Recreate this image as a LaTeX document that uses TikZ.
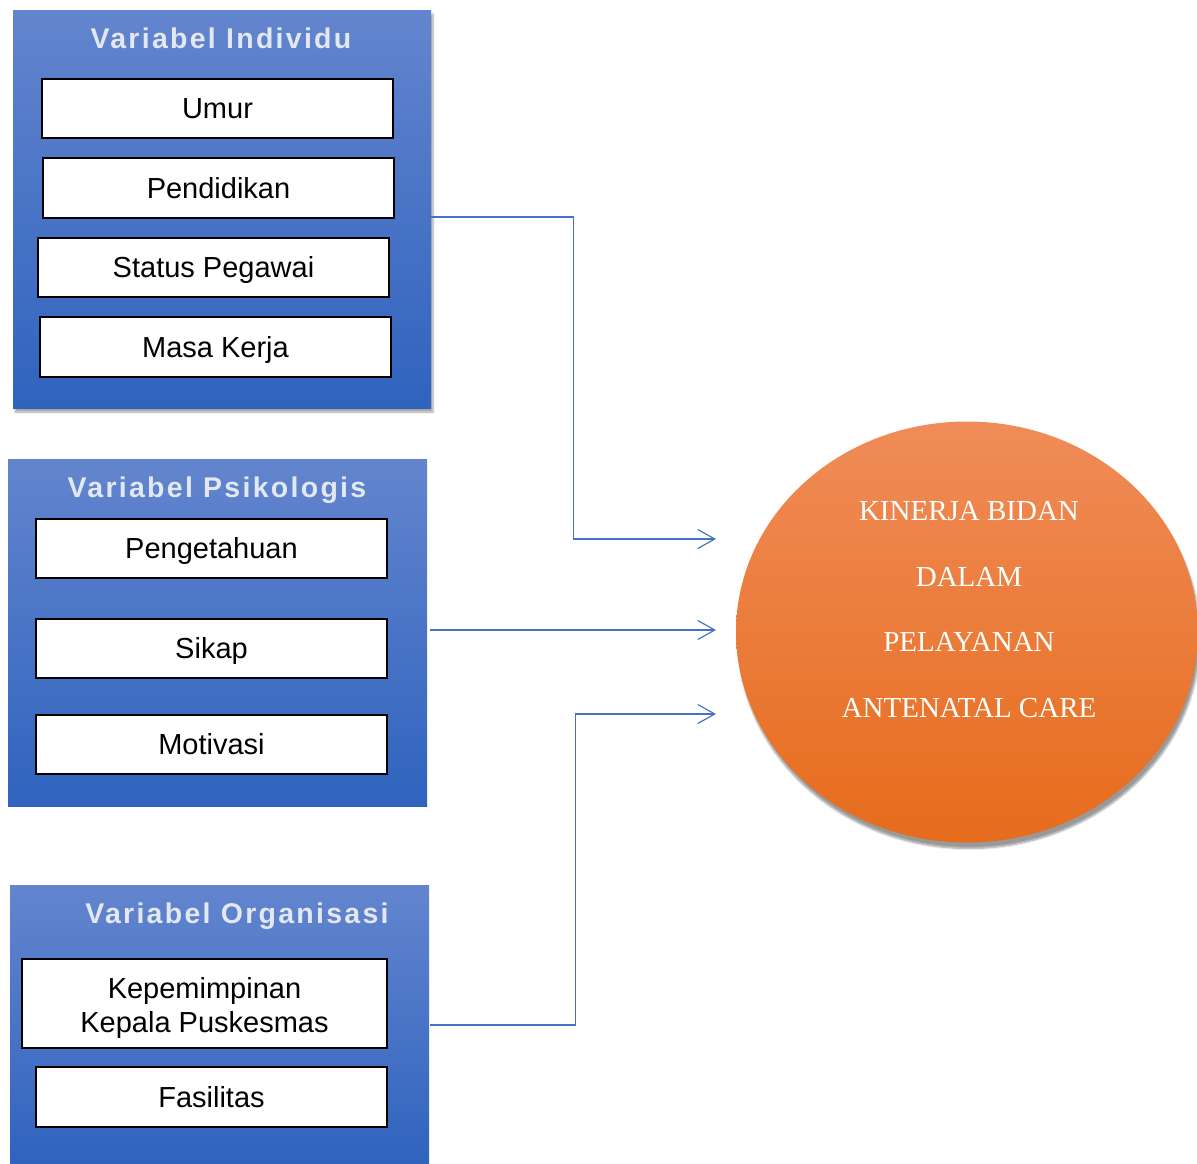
\documentclass[tikz,border=0pt]{standalone}
\usepackage{fontspec}
\setmainfont{Liberation Serif}
\setsansfont{Liberation Sans}
\newfontfamily\titlefont[LetterSpace=8]{Liberation Sans}
\usetikzlibrary{arrows.meta,shapes.geometric,shadows.blur,calc}
\definecolor{boxtop}{RGB}{99,133,206}
\definecolor{boxbot}{RGB}{47,99,190}
\definecolor{conncol}{RGB}{68,114,196}
\definecolor{ovtop}{RGB}{240,140,88}
\definecolor{ovmid}{RGB}{244,128,48}
\definecolor{ovbot}{RGB}{230,108,28}
\definecolor{titlecol}{RGB}{226,231,240}
\begin{document}
\begin{tikzpicture}[x=1pt,y=-1pt,
  container/.style={rectangle, draw=none, inner sep=0pt, top color=boxtop, bottom color=boxbot},
  boxshadow/.style={blur shadow={shadow xshift=2pt, shadow yshift=-4pt, shadow blur steps=6, shadow opacity=35}},
  grouptitle/.style={anchor=base, text=titlecol, inner sep=0pt, font=\titlefont\bfseries\fontsize{28.5}{32}\selectfont},
  itembox/.style={rectangle, draw=black, line width=1.8pt, fill=white, inner sep=0pt,
    minimum width=351pt, minimum height=59pt, text height=26pt, text depth=5.4pt,
    font=\sffamily\fontsize{29}{34}\selectfont, align=center},
  conn/.style={draw=conncol, line width=1.2pt, -{Straight Barb[length=17pt,width=19pt]}},
  target/.style={shape=ellipse, draw=none, inner sep=0pt, minimum width=462pt, minimum height=421pt,
    top color=ovtop, middle color=ovmid, bottom color=ovbot,
    blur shadow={shadow xshift=2pt, shadow yshift=-6pt, shadow blur steps=8, shadow opacity=40}},
  targettext/.style={text=white, inner sep=0pt, align=center, font=\rmfamily\fontsize{29}{65.5}\selectfont}
]
\useasboundingbox (0,0) rectangle (1197,1163);

% containers
\node[container, boxshadow, minimum width=418pt, minimum height=398pt] (box1) at (222,209) {};
\node[container, minimum width=419pt, minimum height=347pt] (box2) at (217.5,632.5) {};
\node[container, minimum width=419pt, minimum height=280pt] (box3) at (219.5,1025) {};

% titles
\node[grouptitle] (title1) at (221,48) {Variabel Individu};
\node[grouptitle] (title2) at (217,497.5) {Variabel Psikologis};
\node[grouptitle] (title3) at (237,923.5) {Variabel Organisasi};

% items
\node[itembox] (umur) at (217.5,108.5) {Umur};
\node[itembox, minimum height=60pt] (pend) at (218.5,188) {Pendidikan};
\node[itembox] (status) at (213.5,267.5) {Status Pegawai};
\node[itembox, minimum height=60pt] (masa) at (215.5,347) {Masa Kerja};
\node[itembox] (penget) at (211.5,548.5) {Pengetahuan};
\node[itembox] (sikap) at (211.5,648.5) {Sikap};
\node[itembox] (motiv) at (211.5,744.5) {Motivasi};
\node[itembox, minimum width=365pt, minimum height=89pt, text height=60pt, text depth=3pt] (kepem) at (204.5,1003.5) {Kepemimpinan\\Kepala Puskesmas};
\node[itembox, minimum height=60pt] (fasil) at (211.5,1097) {Fasilitas};

% target
\node[target] (kinerja) at (967,632) {};
\node[targettext] (kinerjatext) at (969,609.5) {KINERJA BIDAN\\DALAM\\PELAYANAN\\ANTENATAL CARE};

% connectors
\coordinate (t1) at (716,539);
\coordinate (t2) at (716,630);
\coordinate (t3) at (716,714);
\draw[conn] ($(box1.east)+(0,8)$) -- ++(142,0) |- (t1);
\draw[conn] ($(box2.east |- t2)+(3,0)$) -- (t2);
\draw[conn] ($(box3.east)+(1,0)$) -- ++(145,0) |- (t3);
\end{tikzpicture}
\end{document}
